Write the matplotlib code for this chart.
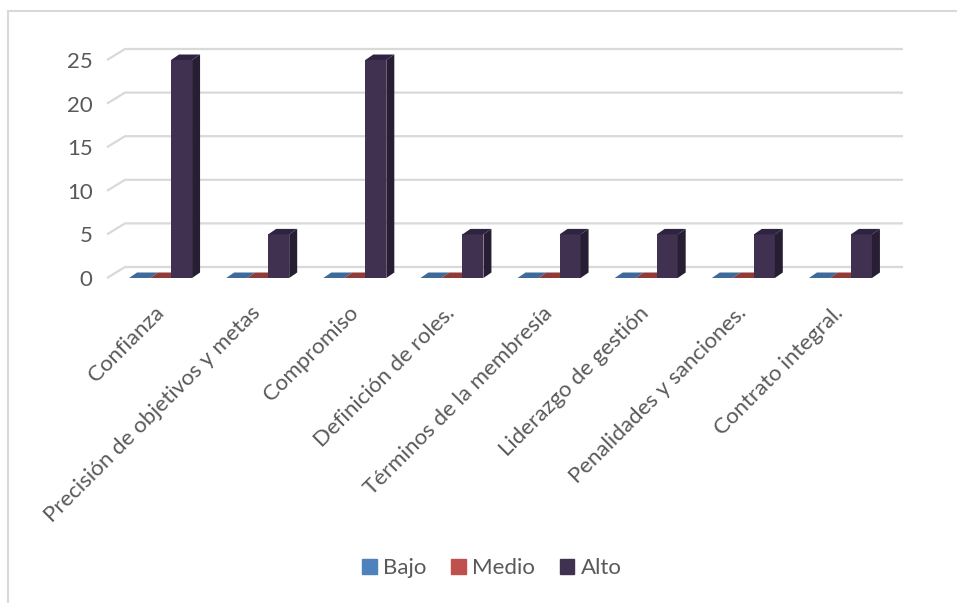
import matplotlib.pyplot as plt
from matplotlib.patches import Polygon, Rectangle
import numpy as np

plt.rcParams['font.family'] = ['Lato', 'DejaVu Sans']

# Data
categorias = ['Confianza', 'Precisión de objetivos y metas', 'Compromiso',
              'Definición de roles.', 'Términos de la membresía',
              'Liderazgo de gestión', 'Penalidades y sanciones.', 'Contrato integral.']
bajo = [0, 0, 0, 0, 0, 0, 0, 0]
medio = [0, 0, 0, 0, 0, 0, 0, 0]
alto = [25, 5, 25, 5, 5, 5, 5, 5]

series = ['Bajo', 'Medio', 'Alto']
front_colors = ['#4F81BD', '#C0504D', '#403151']
top_colors = ['#3E6A9C', '#913B39', '#2E2340']
side_colors = ['#35577F', '#7A302E', '#271E33']
text_color = '#595959'
grid_color = '#D9D9D9'

W, H = 957, 603
fig = plt.figure(figsize=(W / 100, H / 100), dpi=100)

# chart frame (partly cut off at right and bottom)
fig.patches.append(Rectangle((8 / W, -0.05), 1.2, 1 - 11 / H + 0.05,
                             transform=fig.transFigure, fill=False,
                             edgecolor=grid_color, linewidth=1.5))

ax = fig.add_axes([112 / W, (H - 278) / H, 777 / W, 218 / H])
ax.set_xlim(-0.5, 7.5)
ax.set_ylim(0, 25)
for s in ax.spines.values():
    s.set_visible(False)

px_x = 777 / 8          # pixels per category
px_y = 218 / 25         # pixels per unit

# back wall gridlines with oblique stub
gdx, gdy = 18 / px_x, 11 / px_y
x_left = -0.5 - 5 / px_x
x_right = -0.5 + (903 - 112) / px_x
for v in range(0, 30, 5):
    ax.plot([x_left, x_left + gdx, x_right], [v, v + gdy, v + gdy],
            color=grid_color, lw=1.6, clip_on=False, zorder=1,
            solid_capstyle='butt')

# 3D-looking columns
x = np.arange(len(categorias))
bw = 21 / px_x
ddx, ddy = 8 / px_x, 5.5 / px_y
for i, vals in enumerate([bajo, medio, alto]):
    offs = (i - 1) * bw
    ax.bar(x + offs, vals, width=bw, color=front_colors[i], zorder=3,
           label=series[i], linewidth=0)
    for xi, v in zip(x, vals):
        x0 = xi + offs - bw / 2
        x1 = x0 + bw
        top = Polygon([(x0, v), (x1, v), (x1 + ddx, v + ddy), (x0 + ddx, v + ddy)],
                      closed=True, facecolor=top_colors[i], edgecolor='none',
                      zorder=3, clip_on=False)
        ax.add_patch(top)
        if v > 0:
            side = Polygon([(x1, 0), (x1, v), (x1 + ddx, v + ddy), (x1 + ddx, ddy)],
                           closed=True, facecolor=side_colors[i],
                           edgecolor='none', zorder=3, clip_on=False)
            ax.add_patch(side)

ax.set_yticks(range(0, 30, 5))
ax.tick_params(axis='y', length=0, pad=14, labelsize=16, labelcolor=text_color)
ax.set_xticks(x)
ax.set_xticklabels(categorias, rotation=45, ha='right', va='center',
                   rotation_mode='anchor')
ax.tick_params(axis='x', length=0, pad=23, labelsize=16, labelcolor=text_color)

handles = [Rectangle((0, 0), 1, 1, color=c) for c in front_colors]
fig.legend(handles, series, loc='center', bbox_to_anchor=(492 / W, 1 - 568 / H),
           ncol=3, frameon=False, fontsize=16, labelcolor=text_color,
           handlelength=0.65, handleheight=0.65, handletextpad=0.3,
           columnspacing=1.1)

plt.savefig('out.png', dpi=100)
